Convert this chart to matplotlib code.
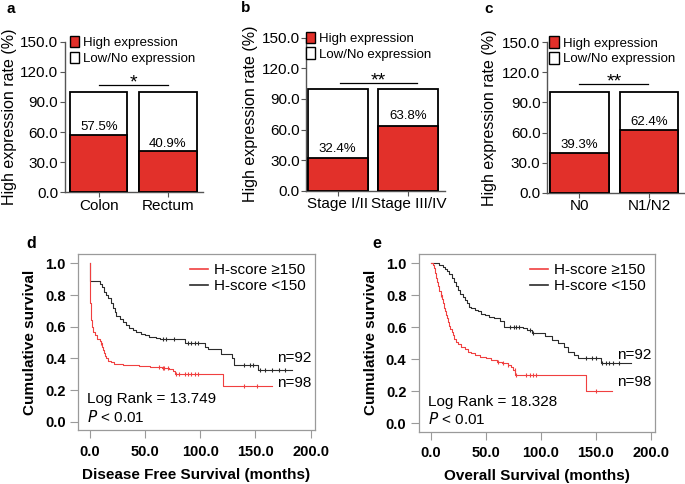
import matplotlib
matplotlib.use("Agg")
import matplotlib.pyplot as plt
from matplotlib.patches import Patch
from matplotlib.lines import Line2D
import numpy as np

plt.rcParams['font.family'] = ['Liberation Sans', 'DejaVu Sans']

# ---------------- data: bar panels ----------------
a_cats = ["Colon", "Rectum"]
a_high = [57.5, 40.9]
b_cats = ["Stage I/II", "Stage III/IV"]
b_high = [32.4, 63.8]
c_cats = ["N0", "N1/N2"]
c_high = [39.3, 62.4]
sig_a = "*"
sig_b = "**"
sig_c = "**"
y_ticks_bar = [0, 30, 60, 90, 120, 150]

# ---------------- data: KM curves ----------------
# Disease free survival (d)
d_black_t = [0, 0.5, 9, 11, 13, 15, 17, 19, 21, 23, 24, 27, 30, 33, 36, 39, 42, 46, 50, 54, 60, 64, 86, 104, 107, 119, 129, 131, 152]
d_black_s = [1.0, 0.89, 0.87, 0.85, 0.82, 0.80, 0.78, 0.75, 0.72, 0.69, 0.665, 0.65, 0.63, 0.61, 0.595, 0.58, 0.568, 0.555, 0.545, 0.537, 0.53, 0.522, 0.495, 0.475, 0.46, 0.43, 0.40, 0.36, 0.326]
d_black_end = 183
d_black_cens = [66, 69, 76.6, 89, 92, 95, 98, 140, 145, 148, 154, 159, 165, 171, 177]
d_red_t = [0, 0.3, 1, 2, 3, 5, 7, 9, 10, 11, 12, 13, 14, 15, 17, 19, 22, 30, 45, 55, 65, 72, 75, 77, 121]
d_red_s = [1.0, 0.75, 0.64, 0.60, 0.565, 0.545, 0.525, 0.51, 0.495, 0.475, 0.455, 0.435, 0.415, 0.40, 0.385, 0.375, 0.366, 0.36, 0.352, 0.345, 0.338, 0.33, 0.32, 0.30, 0.225]
d_red_end = 165
d_red_cens = [10, 63, 66, 67.5, 70.5, 78, 81, 86, 89, 92, 95, 98, 140, 151]

# Overall survival (e)
e_black_t = [0, 8, 11, 13, 15, 17, 19, 21, 23, 25, 27, 29, 31, 33, 35, 37, 40, 43, 46, 49, 53, 58, 63, 67, 84, 88, 92, 104, 110, 116, 121, 125, 130, 134, 155]
e_black_s = [1.0, 0.99, 0.98, 0.965, 0.95, 0.935, 0.91, 0.885, 0.86, 0.835, 0.81, 0.79, 0.77, 0.75, 0.73, 0.72, 0.71, 0.70, 0.685, 0.675, 0.665, 0.656, 0.64, 0.604, 0.595, 0.583, 0.566, 0.545, 0.52, 0.50, 0.479, 0.448, 0.427, 0.406, 0.375]
e_black_end = 182
e_black_cens = [72.5, 75.5, 77.6, 80.6, 90, 93, 141, 147, 150, 155.5, 159.5, 162.5, 165.5, 171.5]
e_red_t = [0, 2, 3, 4, 5, 6, 7, 8, 9, 10, 11, 12, 13, 14, 15, 16, 17, 18, 19, 20, 21, 23, 25, 28, 31, 34, 37, 40, 45, 50, 55, 60, 65, 70, 73, 75, 77, 141]
e_red_s = [1.0, 0.99, 0.97, 0.94, 0.91, 0.885, 0.86, 0.83, 0.80, 0.78, 0.75, 0.72, 0.70, 0.68, 0.66, 0.635, 0.61, 0.59, 0.57, 0.552, 0.53, 0.51, 0.495, 0.479, 0.465, 0.448, 0.437, 0.427, 0.416, 0.406, 0.395, 0.385, 0.375, 0.364, 0.35, 0.333, 0.302, 0.204]
e_red_end = 165
e_red_cens = [9.7, 61, 66, 70.5, 76.6, 78, 87, 90, 93, 96, 150]

RED = '#e2302a'
W, H = 685, 484
fig = plt.figure(figsize=(W / 100, H / 100), dpi=100)


def px_axes(l, t, r, b):
    return fig.add_axes([l / W, 1 - b / H, (r - l) / W, (b - t) / H])


def bar_panel(ax, cats, high, sig, xlim, width, sig_x, sig_y, lab_off, letter, letter_xy, ylab_x, leg_x):
    x = np.arange(len(cats))
    ax.bar(x, [100] * len(cats), width=width, color='white', edgecolor='black', linewidth=1.3, zorder=2)
    ax.bar(x, high, width=width, color=RED, edgecolor='black', linewidth=1.3, zorder=3)
    for xi, v, off in zip(x, high, lab_off):
        ax.text(xi, v + off, f"{v:.1f}%", ha='center', va='center', fontsize=9.5, zorder=4)
    ax.set_xlim(*xlim)
    ax.set_ylim(0, 150)
    ax.set_yticks(y_ticks_bar)
    ax.set_yticklabels([f"{v:.1f}" for v in y_ticks_bar])
    ax.set_xticks(x)
    ax.set_xticklabels(cats)
    for s in ['top', 'right']:
        ax.spines[s].set_visible(False)
    for s in ['left', 'bottom']:
        ax.spines[s].set_color('#555555')
        ax.spines[s].set_linewidth(1.0)
    ax.tick_params(axis='both', labelsize=11, length=3.5, width=0.8, color='#555555', pad=1)
    ax.set_ylabel("High expression rate (%)", fontsize=11.5)
    ax.yaxis.set_label_coords(ylab_x, 0.5)
    ax.plot(sig_x, [sig_y, sig_y], color='black', lw=0.9)
    ax.text(np.mean(sig_x), sig_y - 2.5, sig, ha='center', va='baseline', fontsize=14)
    handles = [Patch(facecolor=RED, edgecolor='black', linewidth=1.0),
               Patch(facecolor='white', edgecolor='black', linewidth=1.0)]
    ax.legend(handles, ["High expression", "Low/No expression"], loc='upper left',
              bbox_to_anchor=(leg_x, 1.04), frameon=False, fontsize=9.5, handlelength=0.7,
              handleheight=0.95, handletextpad=0.3, labelspacing=0.2, borderpad=0, borderaxespad=0)
    fig.text(letter_xy[0] / W, 1 - letter_xy[1] / H, letter, fontsize=11, fontweight='bold',
             ha='center', va='center')


axa = px_axes(64.5, 41.7, 203, 192.3)
bar_panel(axa, a_cats, a_high, sig_a, (-0.495, 1.506), 0.83, [0.0, 0.996], 107, [7.8, 7.2],
          'a', (11, 9), -0.34, 0.04)
axb = px_axes(306, 37.7, 445, 190.7)
bar_panel(axb, b_cats, b_high, sig_b, (-0.45, 1.52), 0.85, [0.03, 1.13], 106, [8.5, 9.7],
          'b', (246, 8), -0.345, 0.0)
axc = px_axes(546.7, 42.3, 684, 192.7)
bar_panel(axc, c_cats, c_high, sig_c, (-0.467, 1.5), 0.84, [0.0, 0.99], 108, [8.3, 7.8],
          'c', (489, 9), -0.362, 0.02)


def km_panel(ax, bt, bs, bend, bc, rt, rs, rend, rc, xlabel, logrank, n_y, lr_y, letter, letter_xy, ylab_x):
    for t, s, end, cens, col in [(bt, bs, bend, bc, '#2b2b2b'), (rt, rs, rend, rc, '#f04040')]:
        tt = list(t) + [end]
        ss = list(s) + [s[-1]]
        ax.step(tt, ss, where='post', color=col, lw=0.8, zorder=3)
        idx = np.searchsorted(np.array(t), np.array(cens), side='right') - 1
        ax.plot(cens, np.array(s)[idx], linestyle='none', marker='|', markersize=3.5,
                markeredgewidth=0.8, color=col, zorder=4)
    ax.set_xlim(-10.6, 203.9)
    ax.set_ylim(-0.052, 1.059)
    ax.set_xticks([0, 50, 100, 150, 200])
    ax.set_xticklabels([f"{v:.1f}" for v in [0, 50, 100, 150, 200]])
    ax.set_yticks([0, 0.2, 0.4, 0.6, 0.8, 1.0])
    ax.set_yticklabels([f"{v:.1f}" for v in [0, 0.2, 0.4, 0.6, 0.8, 1.0]])
    for s in ax.spines.values():
        s.set_color('#9a9a9a')
        s.set_linewidth(0.9)
    ax.tick_params(axis='both', labelsize=10.5, length=6, width=0.8, color='#9a9a9a')
    ax.tick_params(axis='y', pad=3)
    ax.tick_params(axis='x', pad=4.5)
    for lab in ax.get_xticklabels() + ax.get_yticklabels():
        lab.set_fontweight('bold')
    ax.set_xlabel(xlabel, fontsize=11, fontweight='bold', labelpad=6.5)
    ax.set_ylabel("Cumulative survival", fontsize=11, fontweight='bold')
    ax.yaxis.set_label_coords(ylab_x, 0.5)
    handles = [Line2D([], [], color='#f04040', lw=1.2), Line2D([], [], color='#2b2b2b', lw=1.2)]
    ax.legend(handles, ["H-score \u2265150", "H-score <150"], loc='upper right',
              bbox_to_anchor=(1.0, 1.0), frameon=False, fontsize=11, handlelength=1.2,
              handletextpad=0.4, labelspacing=0.15, borderaxespad=0.2)
    ax.text(0.985, n_y[0], "n=92", transform=ax.get_yaxis_transform(), ha='right', va='center', fontsize=11)
    ax.text(0.985, n_y[1], "n=98", transform=ax.get_yaxis_transform(), ha='right', va='center', fontsize=11)
    ax.text(-2.3, lr_y, f"Log Rank = {logrank}", ha='left', va='center', fontsize=11)
    ax.text(-2.3, 0.03, "$\\it{P}$ < 0.01", ha='left', va='center', fontsize=11)
    fig.text(letter_xy[0] / W, 1 - letter_xy[1] / H, letter, fontsize=11.5, fontweight='bold',
             ha='center', va='center')


axd = px_axes(78, 254, 315, 430)
km_panel(axd, d_black_t, d_black_s, d_black_end, d_black_cens, d_red_t, d_red_s, d_red_end,
         d_red_cens, "Disease Free Survival (months)", "13.749", (0.404, 0.242), 0.143, 'd', (31, 243), -0.175)
axe = px_axes(419, 254, 655, 431.7)
km_panel(axe, e_black_t, e_black_s, e_black_end, e_black_cens, e_red_t, e_red_s, e_red_end,
         e_red_cens, "Overall Survival (months)", "18.328", (0.427, 0.26), 0.135, 'e', (377, 243), -0.172)

fig.savefig("out.png", dpi=100)
